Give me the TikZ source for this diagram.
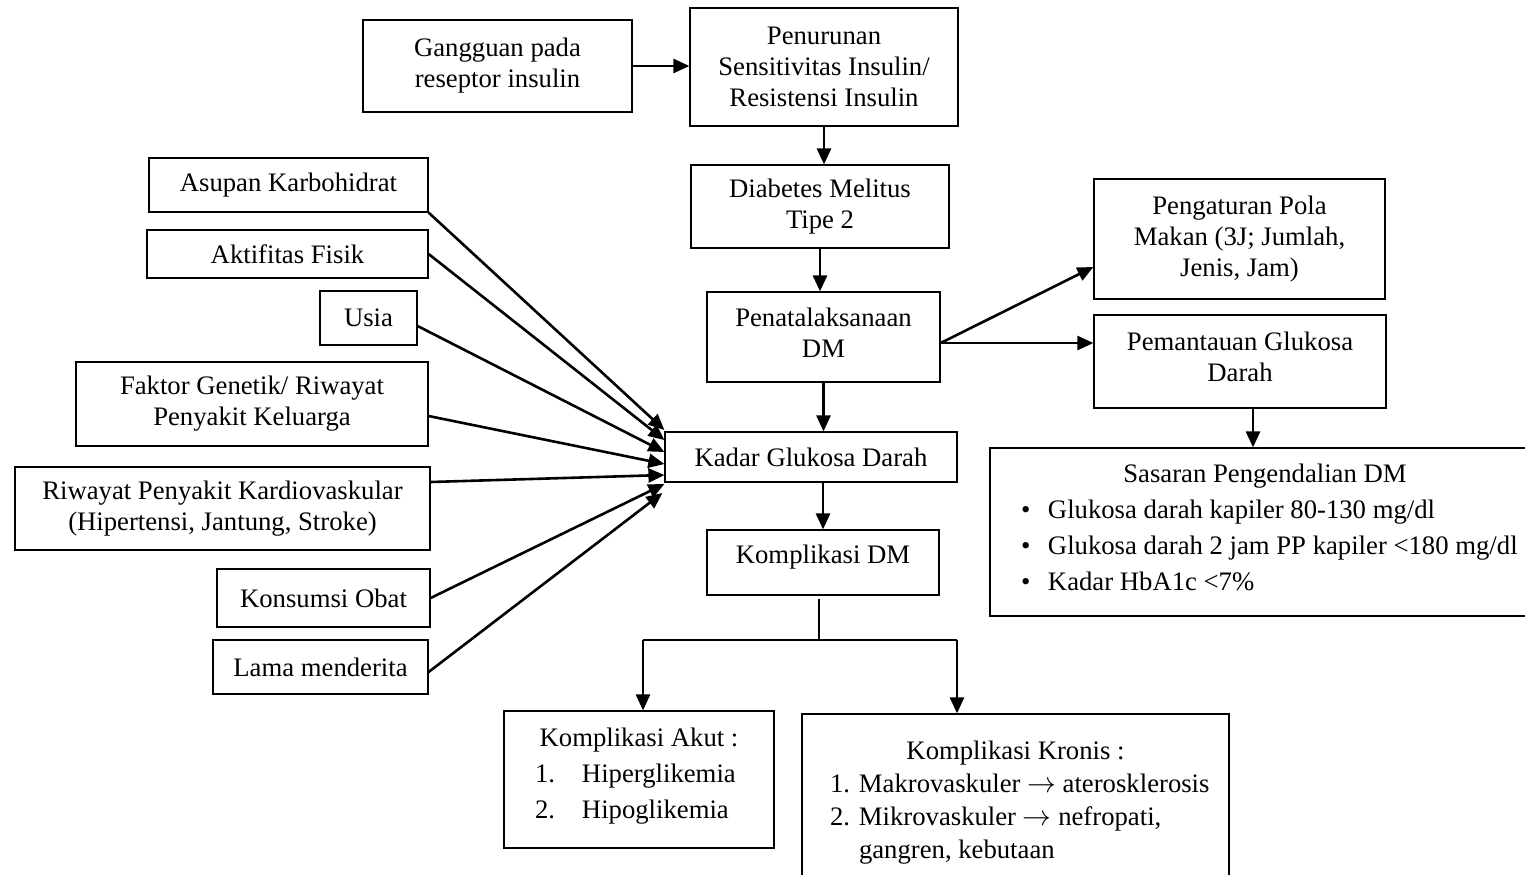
\documentclass[tikz,border=0pt]{standalone}
\usepackage{fontspec}
\setmainfont{Liberation Serif}
\usetikzlibrary{arrows.meta}
\begin{document}
\begin{tikzpicture}[x=0.5pt,y=-0.5pt,
  box/.style={draw, line width=0.6pt, inner sep=0pt, align=center, font=\fontsize{13.35}{15.5}\selectfont},
  listbox/.style={draw, line width=0.6pt, inner sep=0pt, align=flush left},
  arr/.style={line width=1.3pt, -{Triangle[length=8pt,width=7pt]}},
  thinline/.style={line width=0.6pt}]
\useasboundingbox (0,0) rectangle (1525,874);
\clip (0,0) rectangle (1525,874);

% top chain
\node[box, minimum width=134.5pt, minimum height=46pt] (gang) at (497.5,66) {Gangguan pada\\reseptor insulin};
\node[box, minimum width=134pt, minimum height=59pt] (pen) at (824,67) {Penurunan\\Sensitivitas Insulin/\\Resistensi Insulin};
\node[box, minimum width=129pt, minimum height=41.5pt] (dm) at (820,206.5) {Diabetes Melitus\\Tipe 2};
\node[box, minimum width=116.5pt, minimum height=45pt] (pena) at (823.5,337) {Penatalaksanaan\\DM\rule[-4pt]{0pt}{0pt}};
\node[box, minimum width=146pt, minimum height=25pt] (kadar) at (811,457) {Kadar Glukosa Darah};
\node[box, minimum width=116pt, minimum height=32.5pt] (komp) at (823,562.5) {Komplikasi DM\rule[-8.4pt]{0pt}{0pt}};

% left factors
\node[box, minimum width=139.5pt, minimum height=27pt] (asu) at (288.5,185) {Asupan Karbohidrat};
\node[box, minimum width=140.5pt, minimum height=24pt] (akt) at (287.5,254) {Aktifitas Fisik};
\node[box, minimum width=48.5pt, minimum height=27pt] (usia) at (368.5,318) {Usia};
\node[box, minimum width=176pt, minimum height=42pt] (fak) at (252,404) {Faktor Genetik/ Riwayat\\Penyakit Keluarga};
\node[box, minimum width=207.5pt, minimum height=41.5pt] (riw) at (222.5,508.5) {Riwayat Penyakit Kardiovaskular\\(Hipertensi, Jantung, Stroke)};
\node[box, minimum width=106.5pt, minimum height=29pt] (kon) at (323.5,598) {Konsumsi Obat};
\node[box, minimum width=107.5pt, minimum height=27pt] (lama) at (320.5,667) {Lama menderita};

% right side
\node[box, minimum width=145.5pt, minimum height=60pt] (peng) at (1239.5,239) {Pengaturan Pola\\Makan (3J; Jumlah,\\Jenis, Jam)};
\node[box, minimum width=146pt, minimum height=46.5pt] (pem) at (1240,361.5) {Pemantauan Glukosa\\Darah\rule[-4.5pt]{0pt}{0pt}};
\node[listbox, text width=275pt, minimum height=84pt, font=\fontsize{13.35}{18}\selectfont] (sas) at (1265,532)
  {\makebox[275pt]{Sasaran Pengendalian DM}\\
   \hspace*{15.6pt}\makebox[13.4pt][l]{\textbullet}Glukosa darah kapiler 80-130 mg/dl\\
   \hspace*{15.6pt}\makebox[13.4pt][l]{\textbullet}Glukosa darah 2 jam PP kapiler <180 mg/dl\\
   \hspace*{15.6pt}\makebox[13.4pt][l]{\textbullet}Kadar HbA1c <7\%\rule[-4.8pt]{0pt}{0pt}};

% bottom complications
\node[listbox, text width=135pt, minimum height=68.5pt, font=\fontsize{13.35}{18}\selectfont] (akut) at (639,779.5)
  {\makebox[135pt]{Komplikasi Akut :}\\
   \hspace*{15.5pt}\makebox[23.5pt][l]{1.}Hiperglikemia\\
   \hspace*{15.5pt}\makebox[23.5pt][l]{2.}Hipoglikemia\rule[-6pt]{0pt}{0pt}};
\node[listbox, text width=213.5pt, minimum height=89pt, font=\fontsize{13.35}{16.5}\selectfont] (kron) at (1015.5,803)
  {\makebox[213.5pt]{Komplikasi Kronis :}\\
   \hspace*{14pt}1. Makrovaskuler \(\rightarrow\) aterosklerosis\\
   \hspace*{14pt}2. Mikrovaskuler \(\rightarrow\) nefropati,\\
   \hspace*{28.5pt}gangren, kebutaan};

% connectors: main chain
\draw[arr] (gang.east) -- (gang.east -| pen.west);
\draw[arr] (pen.south) -- (pen.south |- dm.north);
\draw[arr] (dm.south) -- (dm.south |- pena.north);
\draw[arr] (pena.south) -- (pena.south |- kadar.north);
\draw[arr] (komp.north |- kadar.south) -- (komp.north);

% factors into Kadar Glukosa Darah
\draw[arr] (asu.south east) -- ([yshift=13.5pt]kadar.west);
\draw[arr] (akt.east) -- ([yshift=8.5pt]kadar.west);
\draw[arr] ([yshift=-4pt]usia.east) -- ([yshift=2.5pt]kadar.west);
\draw[arr] ([yshift=-6pt]fak.east) -- ([yshift=-3.5pt]kadar.west);
\draw[arr] ([yshift=13.25pt]riw.east) -- ([yshift=-9pt]kadar.west);
\draw[arr] (kon.east) -- ([yshift=-13.5pt]kadar.west);
\draw[arr] ([yshift=-2.5pt]lama.east) -- ([xshift=-1pt,yshift=-18pt]kadar.west);

% management branches
\coordinate (pe) at ([yshift=-3pt]pena.east);
\draw[arr] (pe) -- ([yshift=-14pt]peng.west);
\draw[arr] (pe) -- (pe -| pem.west);
\coordinate (ps) at ([xshift=6.5pt]pem.south);
\draw[arr] (ps) -- (ps |- sas.north);

% complication branch
\coordinate (bj) at (819,640);
\coordinate (bl) at (643,640);
\coordinate (bR) at (957,640);
\draw[thinline] ([yshift=-1.5pt]bj |- komp.south) -- (bj);
\draw[thinline] (bl) -- (bR);
\draw[arr] (bl) -- (bl |- akut.north);
\draw[arr] (bR) -- (bR |- kron.north);
\end{tikzpicture}
\end{document}
